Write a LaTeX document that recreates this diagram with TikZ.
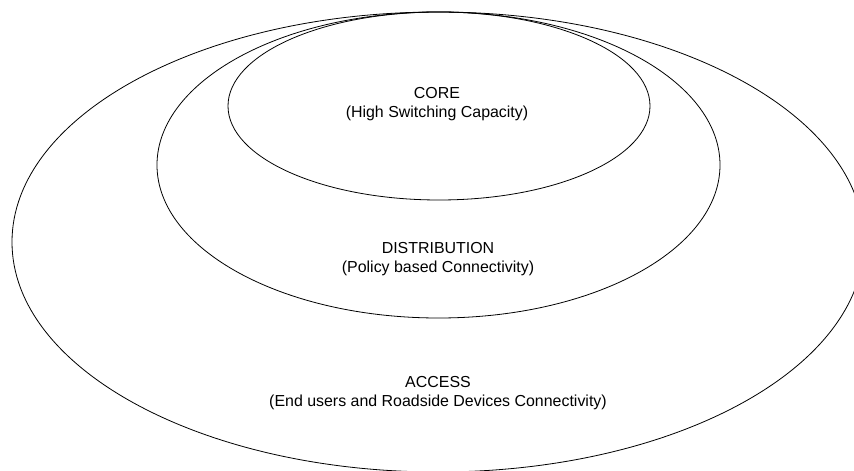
\documentclass[tikz,border=0pt]{standalone}
\usepackage{fontspec}
\setmainfont{Liberation Sans}
\usepackage{tikz}

\tikzset{
	layer/.style={line width=0.8bp,draw=black},
	layertext/.style={align=center,font=\fontsize{16}{18.5}\selectfont,inner sep=0pt}
}

\begin{document}
\begin{tikzpicture}[x=1bp,y=-1bp]
			\useasboundingbox (0,0) rectangle (854,471);
			\clip (0,0) rectangle (854,471);
			\draw[layer] (438,242) ellipse [x radius=426bp,y radius=230bp];
			\draw[layer] (438.5,165) ellipse [x radius=281.5bp,y radius=153bp];
			\draw[layer] (439,106) ellipse [x radius=211bp,y radius=94bp];
			\node[layertext] (core) at (437,104) {CORE\\(High Switching Capacity)};
			\node[layertext] (distribution) at (438,259) {DISTRIBUTION\\(Policy based Connectivity)};
			\node[layertext] (access) at (438,393) {ACCESS\\(End users and Roadside Devices Connectivity)};
		\end{tikzpicture}
\end{document}
